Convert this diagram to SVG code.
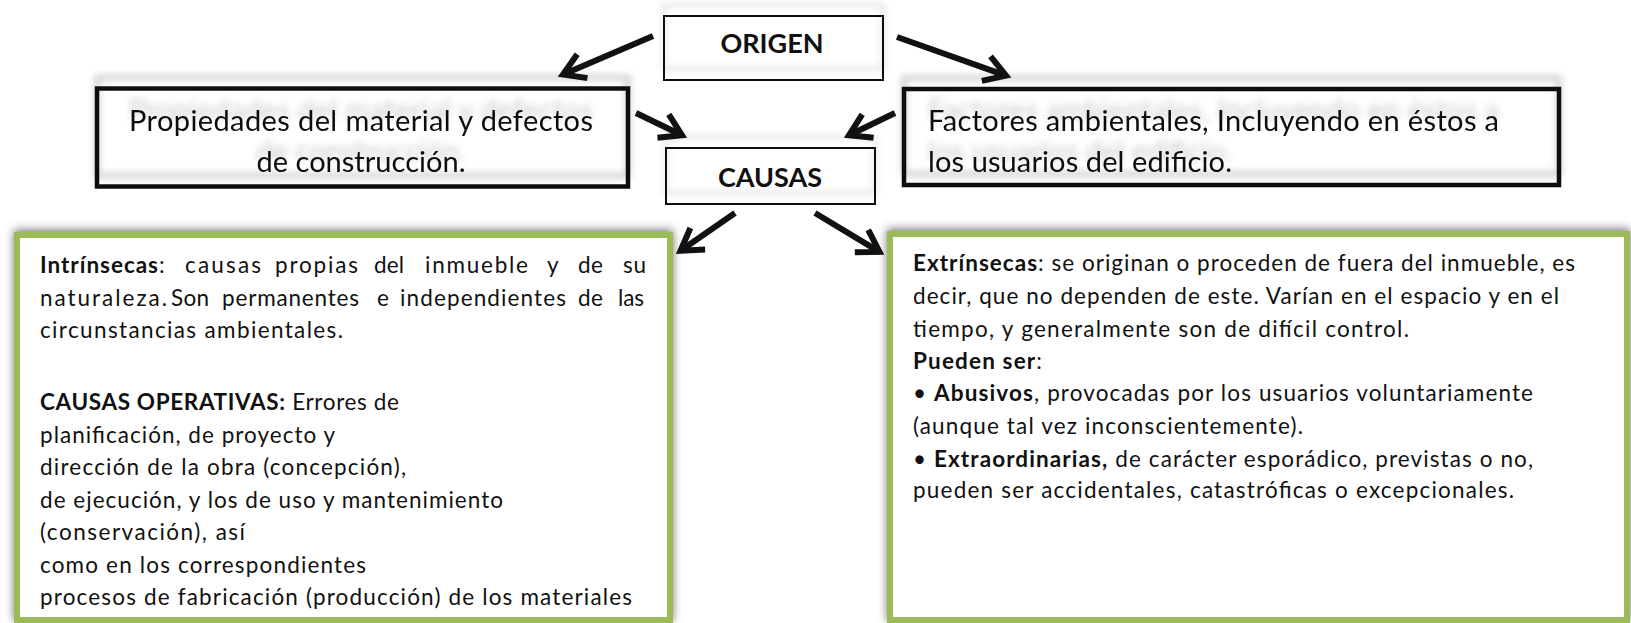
<svg xmlns="http://www.w3.org/2000/svg" width="1631" height="623" viewBox="0 0 1631 623">
<defs>
<style>
.t{font-family:Lato,"Liberation Sans",sans-serif;fill:#111}
.title{font-size:29px}
.body{font-size:22.5px}
.hdr{font-size:27px;font-weight:bold}
.b{font-weight:bold}
.frame{fill:none;stroke:#111;stroke-width:4.5}
.thin{fill:none;stroke:#111;stroke-width:2}
.green{fill:#fff;stroke:#9BBB59;stroke-width:6}
.conn{fill:none;stroke:#111;stroke-width:6}
</style>
<filter id="up" x="-10%" y="-50%" width="120%" height="200%">
<feGaussianBlur in="SourceAlpha" stdDeviation="3.5"/>
<feOffset dy="-11" result="o"/>
<feFlood flood-color="#000" flood-opacity="0.22"/>
<feComposite in2="o" operator="in"/>
<feMerge><feMergeNode/><feMergeNode in="SourceGraphic"/></feMerge>
</filter>
<filter id="glow" x="-5%" y="-10%" width="110%" height="120%">
<feGaussianBlur in="SourceAlpha" stdDeviation="5"/>
<feOffset dy="-2" result="o"/>
<feFlood flood-color="#000" flood-opacity="0.55"/>
<feComposite in2="o" operator="in"/>
<feMerge><feMergeNode/><feMergeNode in="SourceGraphic"/></feMerge>
</filter>
<marker id="ah" markerUnits="userSpaceOnUse" markerWidth="40" markerHeight="40" viewBox="-30 -20 40 40" refX="0" refY="0" orient="auto" overflow="visible">
<path d="M-21,-13 L0,0 L-21,13" fill="none" stroke="#111" stroke-width="6"/>
</marker>
</defs>
<rect width="1631" height="623" fill="#fff"/>

<g id="origen">
<rect x="664" y="16" width="219" height="64" fill="#fff"/>
<rect class="thin" x="664" y="16" width="219" height="64" filter="url(#up)"/>
<text class="t hdr" x="772" y="53" text-anchor="middle">ORIGEN</text>
</g>

<g id="propiedades">
<rect x="97" y="88.5" width="531" height="98" fill="#fff"/>
<g filter="url(#up)">
<rect class="frame" x="97" y="88.5" width="531" height="98"/>
<text class="t title" x="361" y="131" text-anchor="middle" textLength="464">Propiedades  del material y defectos</text>
<text class="t title" x="361" y="172" text-anchor="middle" textLength="209">de construcción.</text>
</g>
</g>

<g id="factores">
<rect x="904" y="89" width="655" height="96" fill="#fff"/>
<g filter="url(#up)">
<rect class="frame" x="904" y="89" width="655" height="96"/>
<text class="t title" x="928" y="131" textLength="571">Factores ambientales, Incluyendo  en éstos a</text>
<text class="t title" x="928" y="172" textLength="304">los usuarios del edificio.</text>
</g>
</g>

<g id="causas">
<rect x="666" y="148" width="209" height="56" fill="#fff"/>
<rect class="thin" x="666" y="148" width="209" height="56" filter="url(#up)"/>
<text class="t hdr" x="770" y="187" text-anchor="middle">CAUSAS</text>
</g>

<g id="intrinsecas">
<rect class="green" x="17" y="235" width="653" height="385" filter="url(#glow)"/>
<text class="t body" y="273"><tspan class="b" x="40" textLength="118">Intrínsecas</tspan>:<tspan x="185" textLength="76">causas</tspan><tspan x="275" textLength="83">propias</tspan><tspan x="374" textLength="30">del</tspan><tspan x="425" textLength="103">inmueble</tspan><tspan x="547">y</tspan><tspan x="578" textLength="25">de</tspan><tspan x="623" textLength="23">su</tspan></text>
<text class="t body" y="306"><tspan x="40" textLength="127">naturaleza.</tspan><tspan x="171" textLength="38">Son</tspan><tspan x="222" textLength="137">permanentes</tspan><tspan x="377">e</tspan><tspan x="400" textLength="166">independientes</tspan><tspan x="578" textLength="25">de</tspan><tspan x="618" textLength="26">las</tspan></text>
<text class="t body" x="40" y="338" textLength="303">circunstancias ambientales.</text>
<text class="t body" x="40" y="410" textLength="359"><tspan class="b">CAUSAS  OPERATIVAS:</tspan>  Errores de</text>
<text class="t body" x="40" y="443" textLength="295">planificación, de proyecto y</text>
<text class="t body" x="40" y="475" textLength="366">dirección de la obra (concepción),</text>
<text class="t body" x="40" y="508" textLength="463">de ejecución, y los de uso y mantenimiento</text>
<text class="t body" x="40" y="540" textLength="205">(conservación), así</text>
<text class="t body" x="40" y="573" textLength="326">como en los correspondientes</text>
<text class="t body" x="40" y="605" textLength="592">procesos de fabricación (producción) de los materiales</text>
</g>

<g id="extrinsecas">
<rect class="green" x="890" y="234" width="737" height="386" filter="url(#glow)"/>
<text class="t body" x="913" y="271" textLength="662"><tspan class="b">Extrínsecas</tspan>:  se originan o proceden de fuera del inmueble, es</text>
<text class="t body" x="913" y="304" textLength="646">decir, que no dependen  de este. Varían en el espacio y en el</text>
<text class="t body" x="913" y="337" textLength="496">tiempo, y generalmente  son de difícil control.</text>
<text class="t body" x="913" y="369" textLength="129"><tspan class="b">Pueden ser</tspan>:</text>
<text class="t body" x="913" y="401" textLength="620">• <tspan class="b">Abusivos</tspan>,  provocadas por los usuarios voluntariamente</text>
<text class="t body" x="913" y="434" textLength="390">(aunque tal vez inconscientemente).</text>
<text class="t body" x="913" y="467" textLength="620">• <tspan class="b">Extraordinarias,</tspan>  de carácter esporádico, previstas o no,</text>
<text class="t body" x="913" y="498" textLength="601">pueden  ser accidentales, catastróficas o excepcionales.</text>
</g>

<g id="connectors">
<path class="conn" d="M653,36 L563,74.4" marker-end="url(#ah)"/>
<path class="conn" d="M897,37 L1006,75.7" marker-end="url(#ah)"/>
<path class="conn" d="M636,113 L682,135.3" marker-end="url(#ah)"/>
<path class="conn" d="M895,113 L849,135.3" marker-end="url(#ah)"/>
<path class="conn" d="M735,213 L680.5,250.7" marker-end="url(#ah)"/>
<path class="conn" d="M815,213 L879.5,251.9" marker-end="url(#ah)"/>
</g>
</svg>
